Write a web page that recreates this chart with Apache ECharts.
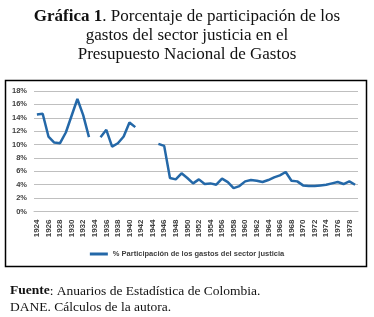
<!DOCTYPE html>
<html>
	<head>
		<meta charset="utf-8">
		<title>Gráfica 1</title>
		<style>
			html, body { margin: 0; padding: 0; background: #fff; }
		</style>
	</head>
	<body>
		<!-- area del grafico -->
		<div id="container" style="width: 374px;height:317px;"></div>
	</body>
	<script src="https://cdn.jsdelivr.net/npm/echarts@6/dist/echarts.min.js"></script>
	<script type="text/javascript">
		'use strict'
		// años 1924 - 1979
		var years = [];
		for (var y = 1924; y <= 1979; y++) { years.push(String(y)); }
		// % participacion de los gastos del sector justicia (null = sin dato)
		var participacion = [
			14.5, 14.6, 11.2, 10.3, 10.2, 11.8, 14.3, 16.8, 14.4, 11.1,
			null, 11.1, 12.2, 9.7, 10.2, 11.2, 13.3, 12.6, null, null,
			null, 10.1, 9.8, 5.0, 4.8, 5.7, 5.0, 4.2, 4.8, 4.1,
			4.2, 4.0, 4.9, 4.4, 3.5, 3.8, 4.5, 4.7, 4.6, 4.4,
			4.7, 5.1, 5.4, 5.9, 4.6, 4.5, 3.9, 3.8, 3.8, 3.9,
			4.0, 4.2, 4.4, 4.1, 4.5, 4.0
		];
		var seriesName = '% Participación de los gastos del sector justicia';

		var myCharts = echarts.init(document.getElementById('container'));
		var option = {
			animation: false,
			title: [{
				text: '{b|Gráfica 1}. Porcentaje de participación de los\ngastos del sector justicia en el\nPresupuesto Nacional de Gastos',
				left: 'center',
				top: 2,
				textStyle: {
					fontFamily: 'Liberation Serif',
					fontSize: 17,
					fontWeight: 'normal',
					color: '#111',
					lineHeight: 19,
					rich: {
						b: { fontFamily: 'Liberation Serif', fontSize: 17, fontWeight: 'bold', color: '#111', lineHeight: 19 }
					}
				}
			}, {
				text: '{b|Fuente}: Anuarios de Estadística de Colombia.\nDANE. Cálculos de la autora.',
				left: 5,
				top: 278,
				textStyle: {
					fontFamily: 'Liberation Serif',
					fontSize: 13.5,
					fontWeight: 'normal',
					color: '#111',
					lineHeight: 16,
					rich: {
						b: { fontFamily: 'Liberation Serif', fontSize: 13.5, fontWeight: 'bold', color: '#111', lineHeight: 16 }
					}
				}
			}],
			// marco del grafico
			graphic: [{
				type: 'rect',
				shape: { x: 5.5, y: 80.5, width: 361, height: 186 },
				style: { fill: 'none', stroke: '#000', lineWidth: 1.5 },
				z: 0
			}],
			grid: {
				left: 34,
				right: 16,
				top: 91,
				bottom: 105.5
			},
			legend: {
				bottom: 54,
				left: 'center',
				icon: 'rect',
				itemWidth: 18,
				itemHeight: 3,
				itemGap: 2,
				textStyle: {
					fontFamily: 'Liberation Sans',
					fontSize: 7.5,
					fontWeight: 'bold',
					color: '#404040'
				},
				data: [seriesName]
			},
			xAxis: {
				type: 'category',
				data: years,
				boundaryGap: true,
				axisLine: { lineStyle: { color: '#bfbfbf' } },
				axisTick: { show: false },
				axisLabel: {
					interval: 1,
					rotate: 90,
					fontFamily: 'Liberation Sans',
					fontSize: 8,
					fontWeight: 'bold',
					color: '#404040',
					margin: 8
				}
			},
			yAxis: {
				type: 'value',
				min: 0,
				max: 18,
				interval: 2,
				axisLine: { show: false },
				axisTick: { show: false },
				splitLine: { lineStyle: { color: '#bfbfbf', width: 1 } },
				axisLabel: {
					formatter: '{value}%',
					fontFamily: 'Liberation Sans',
					fontSize: 7.5,
					fontWeight: 'bold',
					color: '#404040',
					margin: 7
				}
			},
			series: [{
				name: seriesName,
				type: 'line',
				data: participacion,
				showSymbol: false,
				symbol: 'none',
				connectNulls: false,
				lineStyle: { color: '#2468a8', width: 2.5 },
				itemStyle: { color: '#2468a8' }
			}]
		};
		myCharts.setOption(option);
	</script>
</html>
